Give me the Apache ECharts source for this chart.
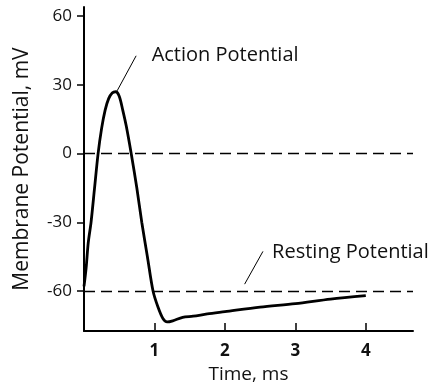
<!DOCTYPE html>
<html>
<head>
<meta charset="utf-8">
<script src="https://cdn.jsdelivr.net/npm/echarts@6/dist/echarts.min.js"></script>
<style>
  html, body { margin: 0; padding: 0; background: #fff; }
  #chart { width: 433px; height: 389px; }
</style>
</head>
<body>
<div id="chart"></div>
<script>
// membrane potential trace (time in ms, potential in mV)
const timeMs = [0, 0.03, 0.06, 0.1, 0.15, 0.2, 0.25, 0.3, 0.35, 0.4, 0.45, 0.5, 0.55, 0.6, 0.67, 0.75, 0.82, 0.9, 0.98, 1.05, 1.12, 1.18, 1.26, 1.4, 1.55, 1.75, 2, 2.5, 3, 3.5, 4]
const potentialMv = [-58, -50, -39, -30, -15, 0, 11, 19, 24, 26.5, 27, 25, 19, 12, 0, -15, -30, -45, -60, -67, -72, -73.5, -73, -71.5, -71, -70, -69, -67, -65.5, -63.5, -62]

const yTicks = [-60, -30, 0, 30, 60]
const xTicks = [1, 2, 3, 4]
const refLevels = [0, -60]

// annotation anchors in data space: [leader start, leader end, text anchor]
const actionNote = { text: 'Action Potential', from: [0.47, 27.4], to: [0.74, 42.7], at: [0.96, 43] }
const restingNote = { text: 'Resting Potential', from: [2.28, -57], to: [2.54, -42.7], at: [2.67, -43] }

const font = '"Open Sans", Lato, sans-serif'

const chart = echarts.init(document.getElementById('chart'))

const leader = (n) => [
    { coord: n.from, symbol: 'none', lineStyle: { type: 'solid', width: 1 } },
    { coord: n.to, symbol: 'none' }
]
const noteLabel = (n) => ({
    coord: n.at,
    symbol: 'circle',
    symbolSize: 0,
    label: {
        show: true,
        position: 'right',
        distance: 0,
        formatter: n.text,
        color: '#111',
        fontFamily: font,
        fontSize: 20
    }
})

const option = {
    backgroundColor: '#fff',
    animation: false,
    grid: {
        left: 84,
        right: 20,
        top: 7,
        bottom: 57
    },
    xAxis: {
        type: 'value',
        min: 0,
        max: 4.67,
        name: 'Time, ms',
        nameLocation: 'middle',
        nameGap: 32,
        nameTextStyle: { color: '#111', fontFamily: font, fontSize: 19 },
        splitLine: { show: false },
        axisLine: { onZero: false, lineStyle: { color: '#000', width: 2 } },
        axisTick: {
            inside: true,
            length: 8,
            customValues: xTicks,
            lineStyle: { color: '#000', width: 1.5 }
        },
        axisLabel: {
            customValues: xTicks,
            margin: 12,
            color: '#111',
            fontFamily: font,
            fontSize: 17,
            fontWeight: 'bold'
        }
    },
    yAxis: {
        type: 'value',
        min: -77.5,
        max: 64,
        name: 'Membrane Potential, mV',
        nameLocation: 'middle',
        nameGap: 51,
        nameTextStyle: { color: '#111', fontFamily: font, fontSize: 21 },
        splitLine: { show: false },
        axisLine: { show: true, onZero: false, lineStyle: { color: '#000', width: 2 } },
        axisTick: {
            show: true,
            length: 7,
            customValues: yTicks,
            lineStyle: { color: '#000', width: 1.5 }
        },
        axisLabel: {
            customValues: yTicks,
            margin: 12,
            color: '#111',
            fontFamily: font,
            fontSize: 17
        }
    },
    series: [
        {
            type: 'line',
            data: timeMs.map((t, i) => [t, potentialMv[i]]),
            smooth: 0.3,
            showSymbol: false,
            lineStyle: { color: '#000', width: 2.8 },
            z: 3,
            markLine: {
                silent: true,
                symbol: 'none',
                label: { show: false },
                lineStyle: { color: '#000', width: 1.4, type: [11, 6] },
                data: refLevels.map(v => ({ yAxis: v }))
                    .concat([leader(actionNote), leader(restingNote)])
            },
            markPoint: {
                silent: true,
                data: [noteLabel(actionNote), noteLabel(restingNote)]
            }
        }
    ]
}

chart.setOption(option)
</script>
</body>
</html>
